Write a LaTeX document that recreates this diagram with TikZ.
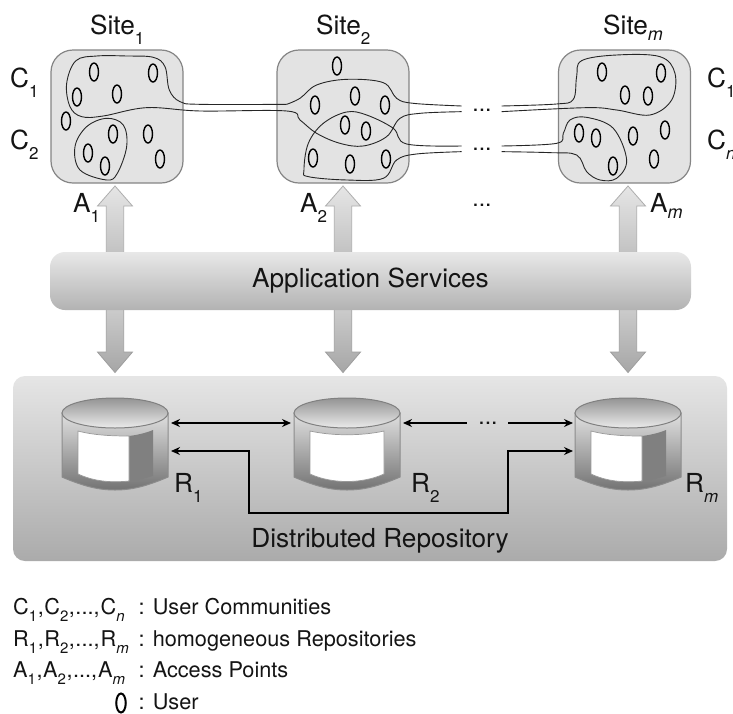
\documentclass[tikz,border=0pt]{standalone}
\usepackage{fontspec}
\setmainfont{TeX Gyre Heros}
\usetikzlibrary{shapes.geometric,arrows.meta}
\definecolor{ink}{HTML}{141414}
\newcommand{\sbx}[1]{\raisebox{-10pt}{\fontsize{17}{17}\selectfont #1}}
\newcommand{\sbi}[1]{\raisebox{-6pt}{\fontsize{18}{18}\selectfont\itshape #1}}
\newcommand{\sbl}[1]{\raisebox{-7pt}{\fontsize{15}{15}\selectfont #1}}
\newcommand{\blockup}[3]{% centre x, tip y, foot y
  \path[draw=black!32,line width=.8pt,top color=black!10,bottom color=black!24]
   (#1,#2) -- (#1+17.5,#2+20) -- (#1+8.7,#2+20) -- (#1+8.7,#3) -- (#1-8.7,#3) -- (#1-8.7,#2+20) -- (#1-17.5,#2+20) -- cycle;}
\newcommand{\blockdown}[3]{%
  \path[draw=black!38,line width=.8pt,top color=black!20,bottom color=black!35]
   (#1,#3) -- (#1+17.5,#3-20.5) -- (#1+8.7,#3-20.5) -- (#1+8.7,#2) -- (#1-8.7,#2) -- (#1-8.7,#3-20.5) -- (#1-17.5,#3-20.5) -- cycle;}
\newcommand{\cyl}[3]{% centre x, name, dark panel flag (1 or 0)
  \path[draw=black!45,line width=1pt,top color=black!12,bottom color=black!55]
   (#1-53,413) -- (#1-53,477) .. controls (#1-30,487) and (#1-15,490) .. (#1,490)
   .. controls (#1+15,490) and (#1+30,487) .. (#1+53,477) -- (#1+53,413) -- cycle;
  \ifnum#3=1
  \path[fill=black!50] (#1+14,436) .. controls (#1+22,435) and (#1+31,433) .. (#1+38,430)
    -- (#1+38,476) .. controls (#1+31,478) and (#1+22,481) .. (#1+14,481) -- cycle;
  \path[fill=white,draw=black!40,line width=.7pt] (#1-37,431) .. controls (#1-22,435) and (#1-5,436) .. (#1+14,436)
    -- (#1+14,481) .. controls (#1-5,483) and (#1-22,481) .. (#1-37,474) -- cycle;
  \else
  \path[fill=white,draw=black!40,line width=.7pt] (#1-37,431) .. controls (#1-15,436) and (#1+15,436) .. (#1+37,431)
    -- (#1+37,474) .. controls (#1+15,484) and (#1-15,484) .. (#1-37,474) -- cycle;
  \fi
  \node[name=#2,ellipse,minimum width=106pt,minimum height=30pt,inner sep=0pt,draw=black!50,line width=1pt,
    top color=black!42,bottom color=black!8] at (#1,413) {};}
\begin{document}
\begin{tikzpicture}[x=1pt,y=-1pt,
  txt/.style={font=\fontsize{26.2}{26}\selectfont,text=ink,inner sep=0pt,anchor=base west},
  leg/.style={font=\fontsize{21.7}{22}\selectfont,text=ink,inner sep=0pt,anchor=base west},
  sitebox/.style={rectangle,rounded corners=22pt,minimum width=132pt,minimum height=133pt,inner sep=0pt,draw=black!48,line width=1.2pt,fill=black!11},
  user/.style={ellipse,draw=black,line width=1.4pt,fill=none,minimum width=9pt,minimum height=18pt,inner sep=0pt},
  comm/.style={draw=black!85,line width=.9pt},
  link/.style={draw=black,line width=1.3pt,{Stealth[length=9pt,width=8pt]}-{Stealth[length=9pt,width=8pt]}},
  linkl/.style={draw=black,line width=1.3pt,{Stealth[length=9pt,width=8pt]}-},
  linkr/.style={draw=black,line width=1.3pt,-{Stealth[length=9pt,width=8pt]}},
  zoomA/.style={x=.3333pt,y=-.3333pt}]
\useasboundingbox (0,0) rectangle (733,713);
\fill[white] (0,0) rectangle (733,713);

% arrows
\foreach \cx in {115,343,628}{
  \blockup{\cx}{186}{254}
  \blockdown{\cx}{308}{372.5}
}

% bars
\node (app) [rectangle,rounded corners=15pt,minimum width=641pt,minimum height=58pt,inner sep=0pt,
  top color=black!9,bottom color=black!30,font=\fontsize{26.2}{26}\selectfont,text=ink] at (370.5,281) {Application Services};
\node (repo) [rectangle,rounded corners=12pt,minimum width=714pt,minimum height=185pt,inner sep=0pt,
  top color=black!10,bottom color=black!33] at (370,468.5) {};
\node[txt,anchor=base] (repolabel) at (380,547) {Distributed Repository};

% sites
\node (s1) [sitebox] at (117,116.5) {};
\node (s2) [sitebox] at (343,116.5) {};
\node (sm) [sitebox] at (624.5,116.5) {};

\node[txt] (ls1) at (90,34) {Site\sbx{1}};
\node[txt] (ls2) at (316,34) {Site\sbx{2}};
\node[txt] (lsm) at (603,34) {Site\sbi{m}};
\node[txt] (c1) at (10,87) {C\sbx{1}};
\node[txt] (c2) at (10,149) {C\sbx{2}};
\node[txt] (c1r) at (707,87) {C\sbx{1}};
\node[txt] (cnr) at (707,149) {C\sbx{\textit{n}}};
\node[txt] (a1) at (73,212) {A\sbx{1}};
\node[txt] (a2) at (300,212) {A\sbx{2}};
\node[txt] (am) at (650,212) {A\sbi{m}};
\foreach \nm/\xx/\yy in {d1/482/110,d2/482/149,d3/482/205.5,d4/488/423}
  \node[font=\fontsize{23}{23}\selectfont,text=ink,inner sep=0pt] (\nm) at (\xx,\yy) {...};

% users
\foreach \xx/\yy [count=\i] in {94/72,153/73,77/97,117/94,66/121,113/134,148/134,88/153,160/159,105/166,
   337/66,315/105,355/96,385/105,345/125,366/131,313/158,350/164,386/159,
   602/72,661/73,625/95,648/96,579/133,596/138,633/136,665/130,654/159,613/166}
  \node[user] (u\i) at (\xx,\yy) {};

% communities
\begin{scope}[zoomA]
\draw[comm] plot[smooth,tension=.6] coordinates {(860,313)(600,313)(540,305)(508,270)(495,200)(460,172)(380,168)(290,168)(228,182)(200,250)(210,320)(245,350)(310,348)(440,323)(600,333)(860,333)(900,360)(950,400)(1020,430)(1090,438)(1160,410)(1200,355)(1260,340)(1385,335)};
\draw[comm] plot[smooth,tension=.6] coordinates {(860,313)(900,295)(950,255)(1040,238)(1150,248)(1190,295)(1240,310)(1385,318)};
\draw[comm] plot[smooth cycle,tension=.6] coordinates {(320,540)(352,520)(380,440)(370,375)(320,355)(260,380)(225,440)(240,510)};
\draw[comm] plot[smooth,tension=.6] coordinates {(1385,438)(1220,432)(1180,385)(1100,345)(1040,336)(970,370)(925,430)(912,510)(925,530)(1040,540)(1150,535)(1190,480)(1250,462)(1385,455)};
\end{scope}
\begin{scope}[zoomA,xshift=400pt]
\draw[comm] plot[smooth,tension=.6] coordinates {(305,318)(470,312)(520,298)(530,230)(545,182)(650,165)(780,170)(825,220)(815,300)(750,345)(650,330)(560,323)(305,335)};
\draw[comm] plot[smooth,tension=.6] coordinates {(305,438)(470,430)(490,400)(510,360)(560,352)(640,385)(680,480)(650,535)(600,540)(560,515)(530,465)(450,458)(305,455)};
\end{scope}

% cylinders
\cyl{115}{r1}{1}
\cyl{347}{r2}{0}
\cyl{628}{rm}{1}
\node[txt] (lr1) at (174,492) {R\sbx{1}};
\node[txt] (lr2) at (411,492) {R\sbx{2}};
\node[txt] (lrm) at (685,492) {R\sbx{\textit{m}}};

% repository links
\coordinate (r1a) at (171,423);
\coordinate (r2a) at (291,423);
\coordinate (r2b) at (403,423);
\coordinate (gapl) at (467,423);
\coordinate (gapr) at (508,423);
\coordinate (rma) at (573,423);
\coordinate (r1b) at (171,451);
\coordinate (rmb) at (573,451);
\coordinate (bl) at (249,513);
\coordinate (br) at (508,513);
\draw[link] (r1a) -- (r2a);
\draw[linkl] (r2b) -- (gapl);
\draw[linkr] (gapr) -- (rma);
\draw[link] (r1b) -- (r1b -| bl) -- (bl) -- (br) -- (br |- rmb) -- (rmb);

% legend
\node[leg] (l1) at (13,614) {C\sbl{1}\kern.6pt,\kern.5pt C\sbl{2}\kern.6pt,\kern.5pt...,\kern1pt C\sbl{\textit{n}}};
\node[leg] (l1b) at (138.5,614) {: User Communities};
\node[leg] (l2) at (13,646) {R\sbl{1}\kern.6pt,\kern.5pt R\sbl{2}\kern.6pt,\kern.5pt...,\kern1pt R\sbl{\textit{m}}};
\node[leg] (l2b) at (138.5,646) {: homogeneous Repositories};
\node[leg] (l3) at (13,677) {A\sbl{1}\kern.6pt,\kern.5pt A\sbl{2}\kern.6pt,\kern.5pt...,\kern1pt A\sbl{\textit{m}}};
\node[leg] (l3b) at (138.5,677) {: Access Points};
\node[user,line width=2pt,minimum width=9.5pt,minimum height=19pt] (l4) at (121,703) {};
\node[leg] (l4b) at (138.5,709.5) {: User};
\end{tikzpicture}
\end{document}
